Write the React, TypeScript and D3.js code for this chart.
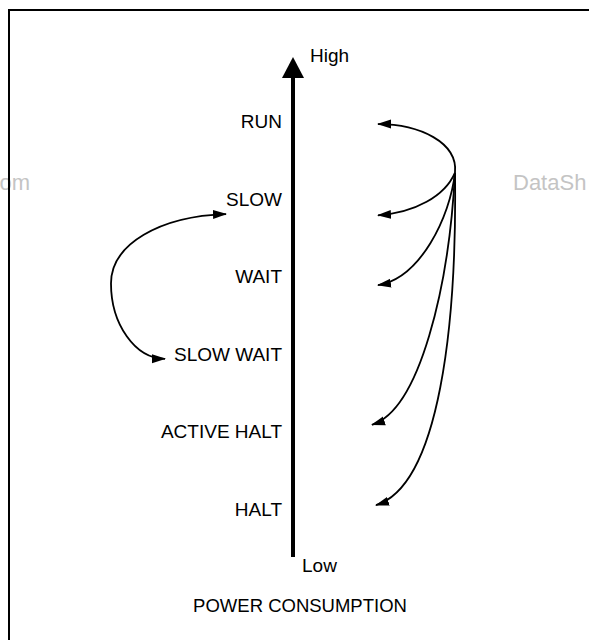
import React from 'react';
import * as d3 from 'd3';

// power modes, top (highest consumption) to bottom
const modes = ['RUN', 'SLOW', 'WAIT', 'SLOW WAIT', 'ACTIVE HALT', 'HALT'];
const modeLevels = [100, 80, 60, 40, 20, 0];

// transitions drawn on the right: common origin -> arrow level
const rightTargets = ['RUN', 'SLOW', 'WAIT', 'ACTIVE HALT', 'HALT'];
const rightArrowLevels = [101, 77.5, 59.5, 23.5, 2.8];
const originLevel = 88.5;

// SLOW <-> SLOW WAIT loop on the left
const loopLevels = [77.8, 40.5];

const W = 589;
const H = 640;

const App: React.FC = () => {
  const y = d3.scaleLinear().domain([0, 100]).range([516, 128]);
  const axisX = 293;
  const labelRight = 282;
  const fontFamily = '"Liberation Sans", Arial, sans-serif';
  const fs = 19;

  const arrowTipX = [378, 378, 378, 372, 376];
  const ox = 455;
  const oy = y(originLevel);

  const rightPath = (lvl: number, i: number) => {
    const ty = y(lvl);
    const tx = arrowTipX[i];
    const dy = ty - oy;
    const p = d3.path();
    p.moveTo(ox, oy);
    if (dy < 0) {
      p.bezierCurveTo(ox + 3, oy - 30, ox - 35, ty, tx, ty);
    } else {
      // steeper drop for the far targets, then a sweep into the arrow
      const drop = dy < 60 ? 0.55 : dy < 150 ? 0.4 : 0.45;
      const lean = dy < 60 ? 10 : dy < 150 ? 5 : dy < 300 ? 6 : -2;
      const back = dy < 60 ? 40 : dy < 150 ? 35 : dy < 300 ? 35 : 15;
      p.bezierCurveTo(ox - lean, oy + dy * drop, ox - back, ty - dy * 0.06, tx, ty);
    }
    return p.toString();
  };

  const loopPath = () => {
    const y0 = y(loopLevels[0]);
    const y1 = y(loopLevels[1]);
    const mid = (y0 + y1) / 2 - 3;
    const p = d3.path();
    p.moveTo(226, y0);
    p.bezierCurveTo(160, y0 + 2, 111, y0 + 30, 111, mid);
    p.bezierCurveTo(111, y1 - 35, 135, y1, 165, y1);
    return p.toString();
  };

  return (
    <div style={{ position: 'fixed', left: 0, top: 0 }}>
      <svg width={W} height={H} style={{ display: 'block', background: '#fff' }}>
        <defs>
          <marker id="ah" viewBox="0 0 14 10" refX="13" refY="5" markerWidth="14" markerHeight="10"
            markerUnits="userSpaceOnUse" orient="auto-start-reverse">
            <path d="M0,0.5 L14,5 L0,9.5 Z" fill="#000" />
          </marker>
          <clipPath id="page">
            <rect x={0} y={0} width={W} height={H} />
          </clipPath>
        </defs>

        {/* watermark */}
        <g clipPath="url(#page)">
          <text x={30} y={190} textAnchor="end" fontFamily={fontFamily} fontSize={22} fill="#c4c4c4">om</text>
          <text x={513} y={190} fontFamily={fontFamily} fontSize={22} fill="#c4c4c4">DataSh</text>
        </g>

        {/* frame */}
        <rect x={9} y={10} width={W + 20} height={H + 20} fill="none" stroke="#000" strokeWidth={2} />

        {/* power axis */}
        <line x1={axisX} x2={axisX} y1={557} y2={76} stroke="#000" strokeWidth={4} />
        <path d={`M${axisX - 11},78 L${axisX + 11},78 L${axisX},57 Z`} fill="#000" />
        <text x={310} y={62} fontFamily={fontFamily} fontSize={fs}>High</text>
        <text x={302} y={572} fontFamily={fontFamily} fontSize={fs}>Low</text>
        <text x={axisX + 7} y={612} textAnchor="middle" fontFamily={fontFamily} fontSize={18.5}>POWER CONSUMPTION</text>

        {modes.map((m, i) => (
          <text key={m} x={labelRight} y={y(modeLevels[i])} textAnchor="end" fontFamily={fontFamily} fontSize={fs}>{m}</text>
        ))}

        {rightTargets.map((t, i) => (
          <path key={t} d={rightPath(rightArrowLevels[i], i)} fill="none" stroke="#000" strokeWidth={1.8} markerEnd="url(#ah)" />
        ))}

        <path d={loopPath()} fill="none" stroke="#000" strokeWidth={1.8} markerStart="url(#ah)" markerEnd="url(#ah)" />
      </svg>
    </div>
  );
};

export default App;
